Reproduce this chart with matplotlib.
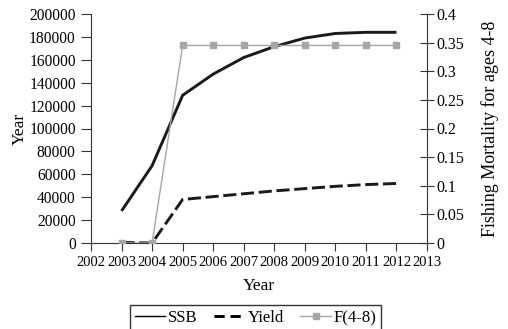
import matplotlib
matplotlib.use("Agg")
import matplotlib.pyplot as plt
from matplotlib.lines import Line2D

plt.rcParams['font.family'] = ['Liberation Serif', 'DejaVu Serif']

years = [2003, 2004, 2005, 2006, 2007, 2008, 2009, 2010, 2011, 2012]
ssb = [28000, 67500, 129000, 147500, 162000, 171500, 179000, 183000, 184000, 184000]
yield_ = [500, 0, 38000, 40500, 43000, 45500, 47500, 49500, 51000, 52000]
f48 = [0, 0, 0.345, 0.345, 0.345, 0.345, 0.345, 0.345, 0.345, 0.345]
xticks = list(range(2002, 2014))
yticks_left = list(range(0, 200001, 20000))
yticks_right = [0, 0.05, 0.1, 0.15, 0.2, 0.25, 0.3, 0.35, 0.4]
yticklabels_right = ['0', '0.05', '0.1', '0.15', '0.2', '0.25', '0.3', '0.35', '0.4']

W, H = 508, 329
fig = plt.figure(figsize=(W/100, H/100), dpi=100)
ax = fig.add_axes([91/W, 1-243/H, (427-91)/W, (243-14)/H])
ax2 = ax.twinx()

ax.plot(years, ssb, color='#1a1a1a', lw=2.1, solid_capstyle='butt')
ax.plot(years, yield_, color='#1a1a1a', lw=2.1, dashes=(4.5, 1.6), dash_capstyle='butt')
ax2.plot(years, f48, color='#a6a6a6', lw=1.0, marker='s', markersize=5, markeredgecolor='#a6a6a6')

ax.set_xlim(2002, 2013)
ax.set_ylim(0, 200000)
ax2.set_ylim(0, 0.4)
ax.set_xticks(xticks)
ax.set_xticklabels([str(x) for x in xticks], fontsize=10.5)
ax.set_yticks(yticks_left)
ax.set_yticklabels([str(v) for v in yticks_left], fontsize=11.2)
ax2.set_yticks(yticks_right)
ax2.set_yticklabels(yticklabels_right, fontsize=11.5)

for a in (ax, ax2):
    a.spines['top'].set_visible(False)
ax.spines['right'].set_visible(False)
ax2.spines['left'].set_visible(False)
ax2.spines['bottom'].set_visible(False)
for s in ('left', 'bottom'):
    ax.spines[s].set_color('#333333')
ax2.spines['right'].set_color('#333333')
ax.tick_params(axis='y', direction='out', length=7, color='#333333', pad=4)
ax.tick_params(axis='x', direction='out', length=6, color='#333333', pad=3)
ax2.tick_params(axis='y', direction='inout', length=10, color='#333333', pad=2)

ax.set_xlabel('Year', fontsize=12.5, labelpad=7)
ax.set_ylabel('Year', fontsize=12.5, labelpad=1)
ax2.set_ylabel('Fishing Mortality for ages 4-8', fontsize=13, labelpad=12)

handles = [
    Line2D([], [], color='black', lw=1.0),
    Line2D([], [], color='black', lw=2.1, dashes=(3.5, 2), dash_capstyle='butt'),
    Line2D([], [], color='#a6a6a6', lw=1.0, marker='s', markersize=4),
]
leg = fig.legend(handles, ['SSB', 'Yield', 'F(4-8)'], loc='upper center',
                 bbox_to_anchor=((132+379)/2/W, 1-305/H), ncol=3, frameon=True,
                 fancybox=False, edgecolor='black', fontsize=12,
                 handlelength=1.85, handletextpad=0.15, columnspacing=1.0,
                 borderpad=0.3, borderaxespad=0)
leg.get_frame().set_linewidth(1.0)

fig.savefig('out.png', dpi=100)
